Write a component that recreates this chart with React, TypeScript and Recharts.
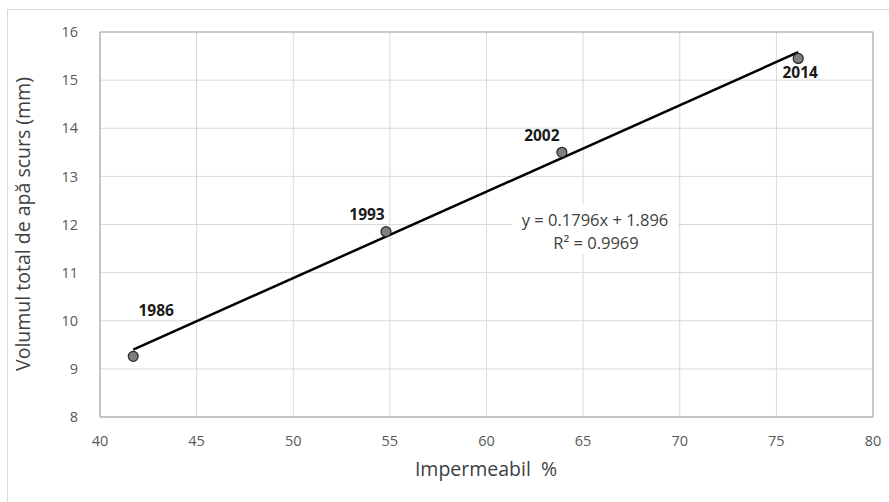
import React from 'react'
import {
  ScatterChart,
  Scatter,
  XAxis,
  YAxis,
  CartesianGrid,
  ReferenceLine,
  ReferenceArea,
  LabelList,
} from 'recharts'

const years = ['1986', '1993', '2002', '2014']
const impermeabil = [41.72, 54.8, 63.9, 76.13]
const volum = [9.26, 11.85, 13.5, 15.45]

const trendX = [41.72, 76.13]
const trendY = [9.4, 15.58]

const xTicks = [40, 45, 50, 55, 60, 65, 70, 75, 80]
const yTicks = [8, 9, 10, 11, 12, 13, 14, 15, 16]

const equation = 'y = 0.1796x + 1.896'
const rSquared = 'R² = 0.9969'

const points = years.map((year, i) => ({ x: impermeabil[i], y: volum[i], year }))

const FONT = "'Open Sans', 'Noto Sans', sans-serif"

// where each year label sits relative to its marker
const labelOffset: Record<string, [number, number]> = {
  '1986': [23, -40],
  '1993': [-19, -12],
  '2002': [-20, -11],
  '2014': [2, 20],
}

function YearLabel(props: any) {
  const { x, y, width, height, value } = props
  const cx = x + (width ?? 0) / 2
  const cy = y + (height ?? 0) / 2
  const [dx, dy] = labelOffset[value] ?? [0, -12]
  return (
    <text
      x={cx + dx}
      y={cy + dy}
      textAnchor="middle"
      fontFamily={FONT}
      fontSize={15.5}
      fontWeight="bold"
      fill="#1a1a1a"
    >
      {value}
    </text>
  )
}

export default function App() {
  return (
    <div style={{ position: 'absolute', left: 0, top: 0, width: 889, height: 502, background: '#fff', overflow: 'hidden' }}>
      <div
        style={{
          position: 'absolute',
          left: 7,
          top: 9,
          width: 900,
          height: 520,
          border: '1px solid #d9d9d9',
        }}
      />
      <ScatterChart
        width={889}
        height={502}
        margin={{ top: 32, right: 16, bottom: 55, left: 40 }}
        style={{ position: 'absolute', left: 0, top: 0 }}
      >
        <CartesianGrid stroke="#d9d9d9" strokeWidth={1} />
        <XAxis
          type="number"
          dataKey="x"
          domain={[40, 80]}
          ticks={xTicks}
          axisLine={{ stroke: '#bfbfbf' }}
          tickLine={false}
          tick={{ fill: '#595959', fontSize: 14.5, fontFamily: FONT }}
          tickMargin={13}
          height={30}
        />
        <YAxis
          type="number"
          dataKey="y"
          domain={[8, 16]}
          ticks={yTicks}
          axisLine={{ stroke: '#bfbfbf' }}
          tickLine={false}
          tick={{ fill: '#595959', fontSize: 14.5, fontFamily: FONT }}
          tickMargin={16}
          width={60}
        />
        <ReferenceArea x1={40} x2={80} y1={8} y2={16} fill="none" stroke="#a6a6a6" strokeWidth={1} />
        <ReferenceLine
          segment={[
            { x: trendX[0], y: trendY[0] },
            { x: trendX[1], y: trendY[1] },
          ]}
          stroke="#000"
          strokeWidth={2.5}
        />
        <Scatter
          data={points}
          isAnimationActive={false}
          shape={(p: any) => (
            <circle cx={p.cx} cy={p.cy} r={5} fill="#7f7f7f" stroke="#262626" strokeWidth={1.2} />
          )}
        >
          <LabelList dataKey="year" content={<YearLabel />} />
        </Scatter>
      </ScatterChart>

      <svg width={889} height={502} style={{ position: 'absolute', left: 0, top: 0, pointerEvents: 'none' }}>
        <rect x={512} y={204} width={166} height={50} fill="#fff" />
        <text x={595} y={226} textAnchor="middle" fontFamily={FONT} fontSize={16.5} fill="#404040">
          {equation}
        </text>
        <text x={596} y={249} textAnchor="middle" fontFamily={FONT} fontSize={16.5} fill="#404040">
          {rSquared}
        </text>
        <text x={486} y={476} textAnchor="middle" fontFamily={FONT} fontSize={19.5} fill="#404040" xmlSpace="preserve">
          {'Impermeabil  %'}
        </text>
        <text
          x={30}
          y={224}
          textAnchor="middle"
          fontFamily={FONT}
          fontSize={19.5}
          fill="#404040"
          transform="rotate(-90 30 224)"
        >
          Volumul total de apă scurs (mm)
        </text>
      </svg>
    </div>
  )
}
